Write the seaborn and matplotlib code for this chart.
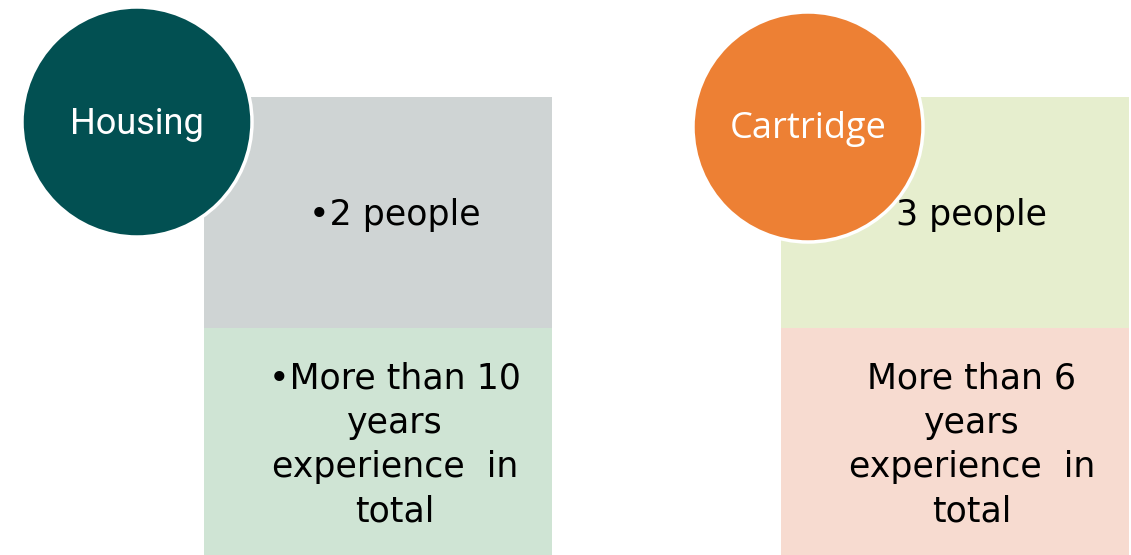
import matplotlib
matplotlib.use("Agg")
import matplotlib.pyplot as plt
import seaborn as sns
from matplotlib.patches import Circle

# ---- content ----
categories = ["Housing", "Cartridge"]
people_text = ["\u20222 people", "3 people"]
experience_text = ["\u2022More than 10\nyears\nexperience  in\ntotal",
                   "More than 6\nyears\nexperience  in\ntotal"]

circle_colors = ["#025052", "#ED8034"]
top_colors = ["#CFD4D4", "#E6EECE"]
bottom_colors = ["#CFE4D4", "#F7DBD0"]
label_fonts = [["Roboto", "DejaVu Sans"], ["Open Sans", "DejaVu Sans"]]

sns.set_theme(style="white")
plt.rcParams['font.family'] = ['DejaVu Sans']

W, H = 1131, 555
fig = plt.figure(figsize=(W / 100, H / 100), dpi=100)
ax = fig.add_axes([0, 0, 1, 1])
ax.set_xlim(0, W)
ax.set_ylim(H, 0)
ax.axis("off")

# layout (pixel coordinates)
box_left = [204, 781]
box_width = 348
top_y, mid_y, bot_y = 97, 328, 555
circ_center = [(137, 122), (808, 127)]
circ_r = 115

for i, cat in enumerate(categories):
    cx = box_left[i] + box_width / 2
    ax.bar(cx, mid_y - top_y, bottom=top_y, width=box_width,
           color=top_colors[i], linewidth=0, zorder=1)
    ax.bar(cx, bot_y - mid_y, bottom=mid_y, width=box_width,
           color=bottom_colors[i], linewidth=0, zorder=1)
    ax.text(cx + 17, 215, people_text[i], ha="center", va="center",
            fontsize=25, color="black", zorder=4)
    ax.text(cx + 17, 445, experience_text[i], ha="center", va="center",
            fontsize=25, color="black", linespacing=1.38, zorder=4)
    c = Circle(circ_center[i], circ_r, facecolor=circle_colors[i],
               edgecolor="white", linewidth=2.5, zorder=3)
    ax.add_patch(c)
    ax.text(circ_center[i][0], circ_center[i][1] + 2, cat, ha="center", va="center",
            fontsize=26, color="white", family=label_fonts[i], zorder=5)

fig.savefig("out.png", dpi=100, facecolor="white")
